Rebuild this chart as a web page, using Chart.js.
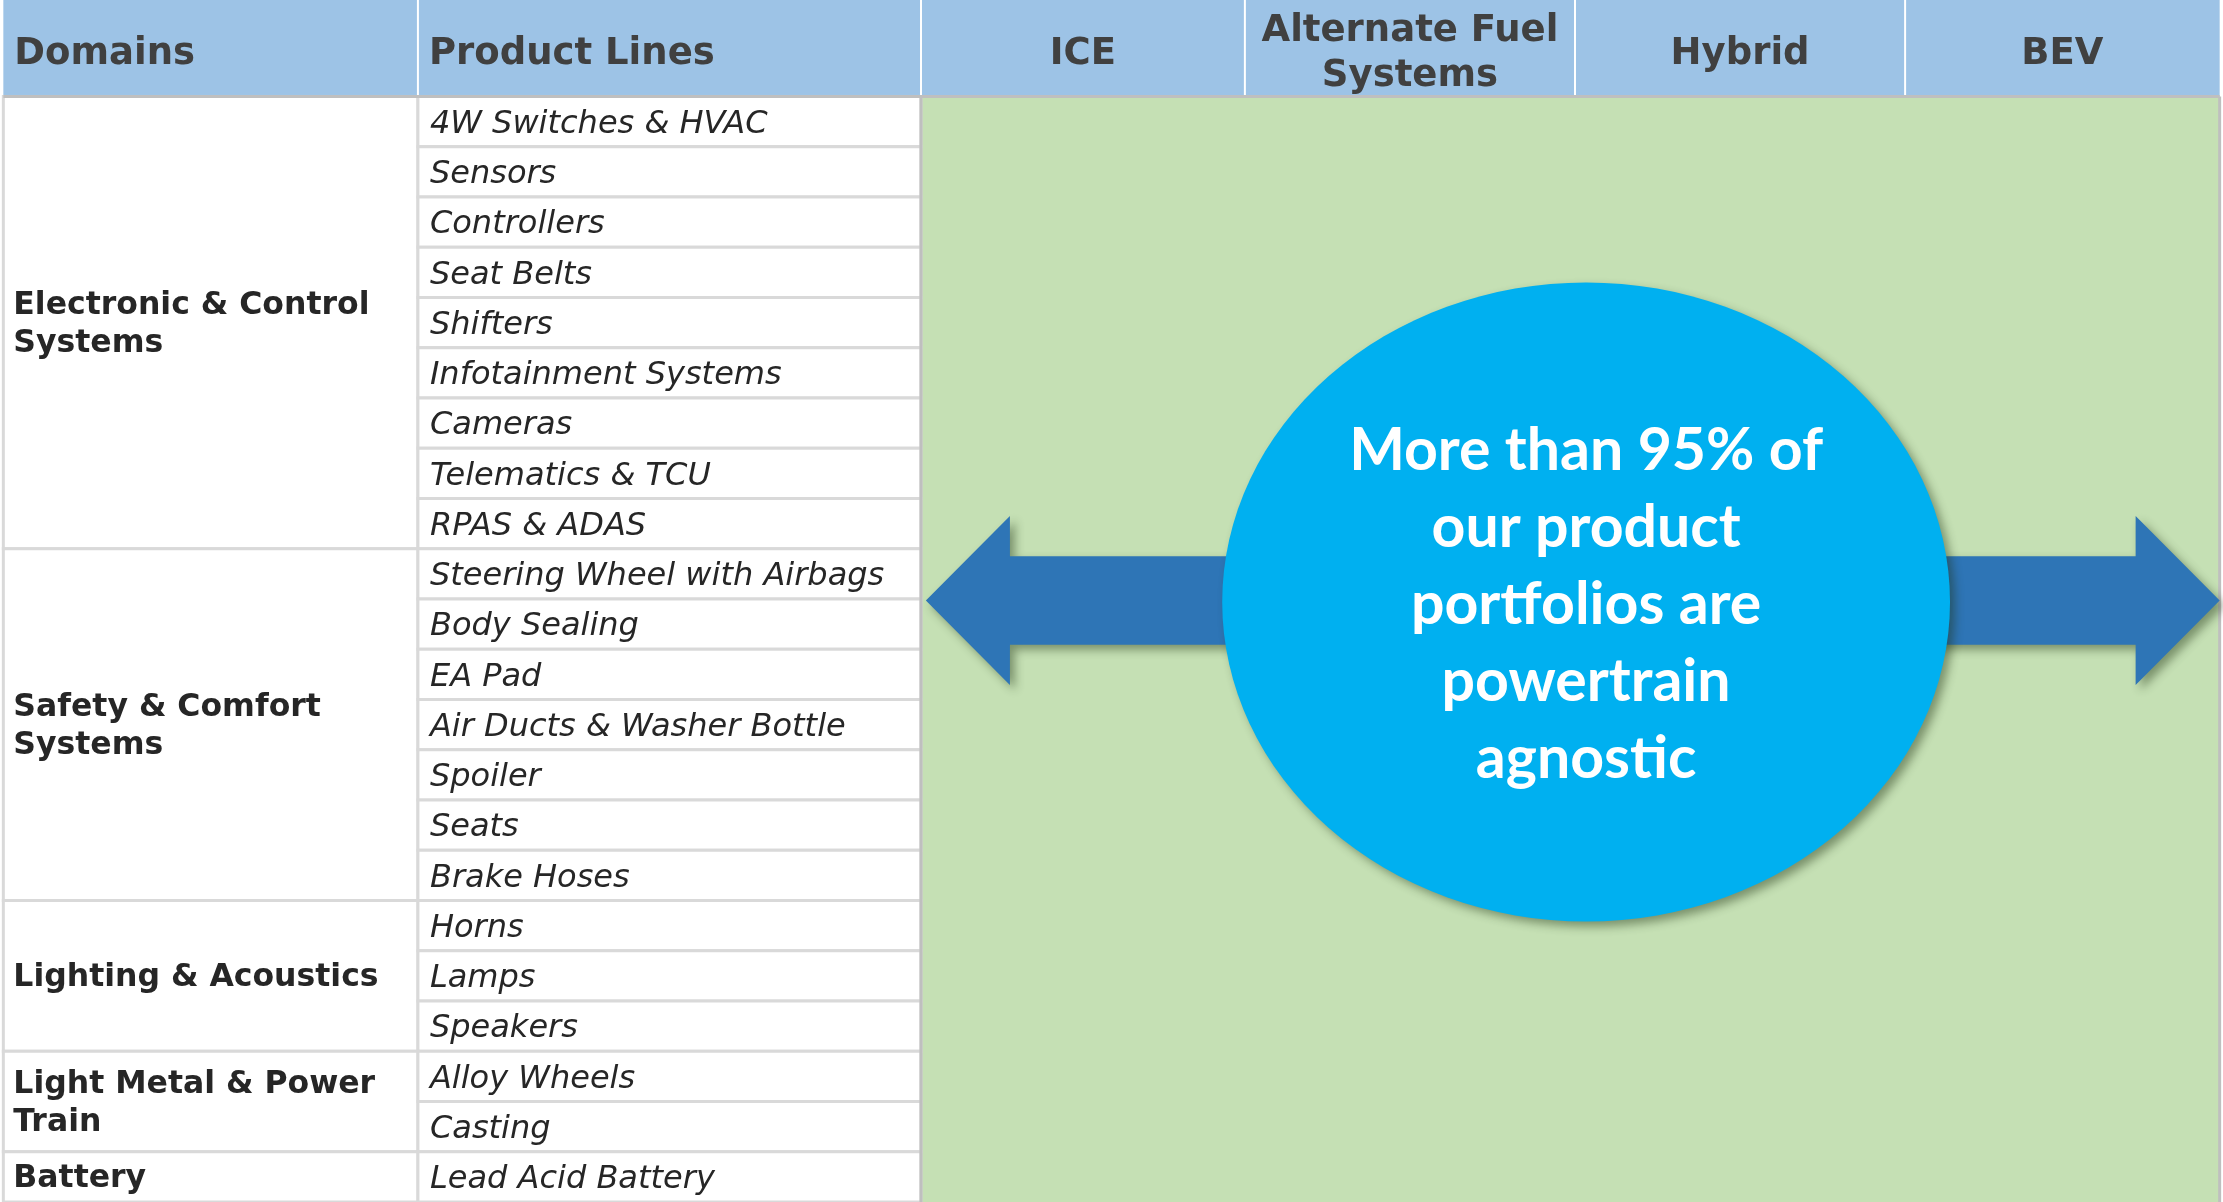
<!DOCTYPE html>
<html>
<head>
<meta charset="utf-8">
<script src="https://cdn.jsdelivr.net/npm/chart.js@4.4.0/dist/chart.umd.min.js"></script>
<style>
html, body { margin: 0; padding: 0; background: #fff; }
#wrap { width: 2223px; height: 1202px; }
</style>
</head>
<body>
<div id="wrap"><canvas id="portfolioChart"></canvas></div>
<script>
const headers = ['Domains', 'Product Lines', 'ICE', 'Alternate Fuel Systems', 'Hybrid', 'BEV'];
const domains = ['Electronic & Control Systems', 'Safety & Comfort Systems', 'Lighting & Acoustics', 'Light Metal & Power Train', 'Battery'];
const electronicLines = ['4W Switches & HVAC', 'Sensors', 'Controllers', 'Seat Belts', 'Shifters', 'Infotainment Systems', 'Cameras', 'Telematics & TCU', 'RPAS & ADAS'];
const safetyLines = ['Steering Wheel with Airbags', 'Body Sealing', 'EA Pad', 'Air Ducts & Washer Bottle', 'Spoiler', 'Seats', 'Brake Hoses'];
const lightingLines = ['Horns', 'Lamps', 'Speakers'];
const metalLines = ['Alloy Wheels', 'Casting'];
const batteryLines = ['Lead Acid Battery'];
const calloutLines = ['More than 95% of', 'our product', 'portfolios are', 'powertrain', 'agnostic'];

const productGroups = [electronicLines, safetyLines, lightingLines, metalLines, batteryLines];

// layout, in scale units: x runs 0-100 across the page, y is one unit per table row
const colEdges = [0.15, 18.8, 41.43, 56.0, 70.85, 85.7, 99.85];
const headerRows = 1.92;
const totalRows = headerRows + productGroups.reduce((n, g) => n + g.length, 0);
const bubble = { x: 71.35, y: 11.98, rx: 16.37, ry: 6.36 };
const arrow = { left: 41.65, right: 99.85, y: 11.95, shaft: 0.88, head: 1.68, headLen: 3.78 };

function wrapText(ctx, text, maxW) {
  const words = text.split(' ');
  const lines = [];
  let cur = '';
  words.forEach(w => {
    const test = cur ? cur + ' ' + w : w;
    if (ctx.measureText(test).width > maxW && cur) {
      lines.push(cur);
      cur = w;
    } else {
      cur = test;
    }
  });
  if (cur) lines.push(cur);
  return lines;
}

const tablePlugin = {
  id: 'tablePlugin',
  beforeDatasetsDraw(chart) {
    const { ctx, scales: { x, y } } = chart;
    const px = v => x.getPixelForValue(v);
    const py = v => y.getPixelForValue(v);
    ctx.save();
    ctx.fillStyle = '#fff';
    ctx.fillRect(0, 0, chart.width, chart.height);

    // header row
    ctx.textBaseline = 'middle';
    headers.forEach((h, i) => {
      const x0 = px(colEdges[i]), x1 = px(colEdges[i + 1]);
      const y0 = py(0), y1 = py(headerRows);
      ctx.fillStyle = '#9DC3E6';
      ctx.fillRect(x0, y0, x1 - x0, y1 - y0);
      ctx.font = 'bold 37px "DejaVu Sans"';
      ctx.fillStyle = '#404040';
      const lines = wrapText(ctx, h, x1 - x0 - 12);
      const mid = (y0 + y1) / 2 + 6;
      lines.forEach((ln, k) => {
        const ly = mid + (k - (lines.length - 1) / 2) * 45;
        if (i < 2) {
          ctx.textAlign = 'left';
          ctx.fillText(ln, x0 + 11, ly);
        } else {
          ctx.textAlign = 'center';
          ctx.fillText(ln, (x0 + x1) / 2, ly);
        }
      });
    });
    ctx.strokeStyle = '#fff';
    ctx.lineWidth = 2;
    for (let i = 1; i < headers.length; i++) {
      ctx.beginPath();
      ctx.moveTo(px(colEdges[i]), py(0));
      ctx.lineTo(px(colEdges[i]), py(headerRows));
      ctx.stroke();
    }

    // green powertrain area
    ctx.fillStyle = '#C5E0B4';
    ctx.fillRect(px(colEdges[2]), py(headerRows), px(colEdges[6]) - px(colEdges[2]), py(totalRows) - py(headerRows));

    // domain and product cells
    let r = headerRows;
    productGroups.forEach((group, gi) => {
      const d0 = px(colEdges[0]), d1 = px(colEdges[1]);
      const top = py(r), bot = py(r + group.length);
      ctx.fillStyle = '#fff';
      ctx.fillRect(d0, top, d1 - d0, bot - top);
      ctx.strokeStyle = '#D9D9D9';
      ctx.lineWidth = 3;
      ctx.strokeRect(d0, top, d1 - d0, bot - top);

      ctx.font = 'bold 31.5px "DejaVu Sans"';
      ctx.fillStyle = '#262626';
      ctx.textAlign = 'left';
      const dl = wrapText(ctx, domains[gi], d1 - d0 - 24);
      const dmid = (top + bot) / 2 + 2;
      dl.forEach((ln, k) => {
        ctx.fillText(ln, d0 + 10, dmid + (k - (dl.length - 1) / 2) * 38);
      });

      group.forEach((p, k) => {
        const p0 = px(colEdges[1]), p1 = px(colEdges[2]);
        const t = py(r + k), b = py(r + k + 1);
        ctx.fillStyle = '#fff';
        ctx.fillRect(p0, t, p1 - p0, b - t);
        ctx.strokeStyle = '#D9D9D9';
        ctx.lineWidth = 3;
        ctx.strokeRect(p0, t, p1 - p0, b - t);
        ctx.font = 'italic 32px "DejaVu Sans"';
        ctx.fillStyle = '#262626';
        ctx.fillText(p, p0 + 12, (t + b) / 2 + 3);
      });
      r += group.length;
    });

    // outer borders
    ctx.strokeStyle = '#BFBFBF';
    ctx.lineWidth = 3;
    ctx.beginPath();
    ctx.moveTo(px(colEdges[0]), py(headerRows));
    ctx.lineTo(px(colEdges[6]), py(headerRows));
    ctx.moveTo(px(colEdges[2]), py(headerRows));
    ctx.lineTo(px(colEdges[2]), py(totalRows));
    ctx.moveTo(px(colEdges[6]), py(headerRows));
    ctx.lineTo(px(colEdges[6]), py(totalRows));
    ctx.stroke();

    // double-headed arrow
    const ay = py(arrow.y);
    const sh = py(arrow.y + arrow.shaft) - ay;
    const hh = py(arrow.y + arrow.head) - ay;
    const L = px(arrow.left), R = px(arrow.right);
    const hl = px(arrow.left + arrow.headLen) - L;
    ctx.save();
    ctx.shadowColor = 'rgba(30, 50, 20, 0.45)';
    ctx.shadowBlur = 10;
    ctx.shadowOffsetX = 5;
    ctx.shadowOffsetY = 5;
    ctx.fillStyle = '#2E75B6';
    ctx.beginPath();
    ctx.moveTo(L, ay);
    ctx.lineTo(L + hl, ay - hh);
    ctx.lineTo(L + hl, ay - sh);
    ctx.lineTo(R - hl, ay - sh);
    ctx.lineTo(R - hl, ay - hh);
    ctx.lineTo(R, ay);
    ctx.lineTo(R - hl, ay + hh);
    ctx.lineTo(R - hl, ay + sh);
    ctx.lineTo(L + hl, ay + sh);
    ctx.lineTo(L + hl, ay + hh);
    ctx.closePath();
    ctx.fill();

    // callout ellipse
    const cx = px(bubble.x), cy = py(bubble.y);
    const erx = px(bubble.x + bubble.rx) - cx, ery = py(bubble.y + bubble.ry) - cy;
    ctx.fillStyle = '#00B0F0';
    ctx.beginPath();
    ctx.ellipse(cx, cy, erx, ery, 0, 0, Math.PI * 2);
    ctx.fill();
    ctx.restore();

    ctx.font = 'bold 59px Lato';
    ctx.fillStyle = '#fff';
    ctx.textAlign = 'center';
    ctx.textBaseline = 'middle';
    calloutLines.forEach((ln, k) => {
      ctx.fillText(ln, cx, cy + 3 + (k - (calloutLines.length - 1) / 2) * 77);
    });
    ctx.restore();
  }
};

new Chart(document.getElementById('portfolioChart'), {
  type: 'scatter',
  data: { datasets: [] },
  options: {
    responsive: true,
    maintainAspectRatio: false,
    animation: false,
    layout: { padding: 0 },
    plugins: { legend: { display: false }, tooltip: { enabled: false } },
    scales: {
      x: { type: 'linear', min: 0, max: 100, display: false },
      y: { type: 'linear', min: 0, max: totalRows, reverse: true, display: false }
    }
  },
  plugins: [tablePlugin]
});
</script>
</body>
</html>
